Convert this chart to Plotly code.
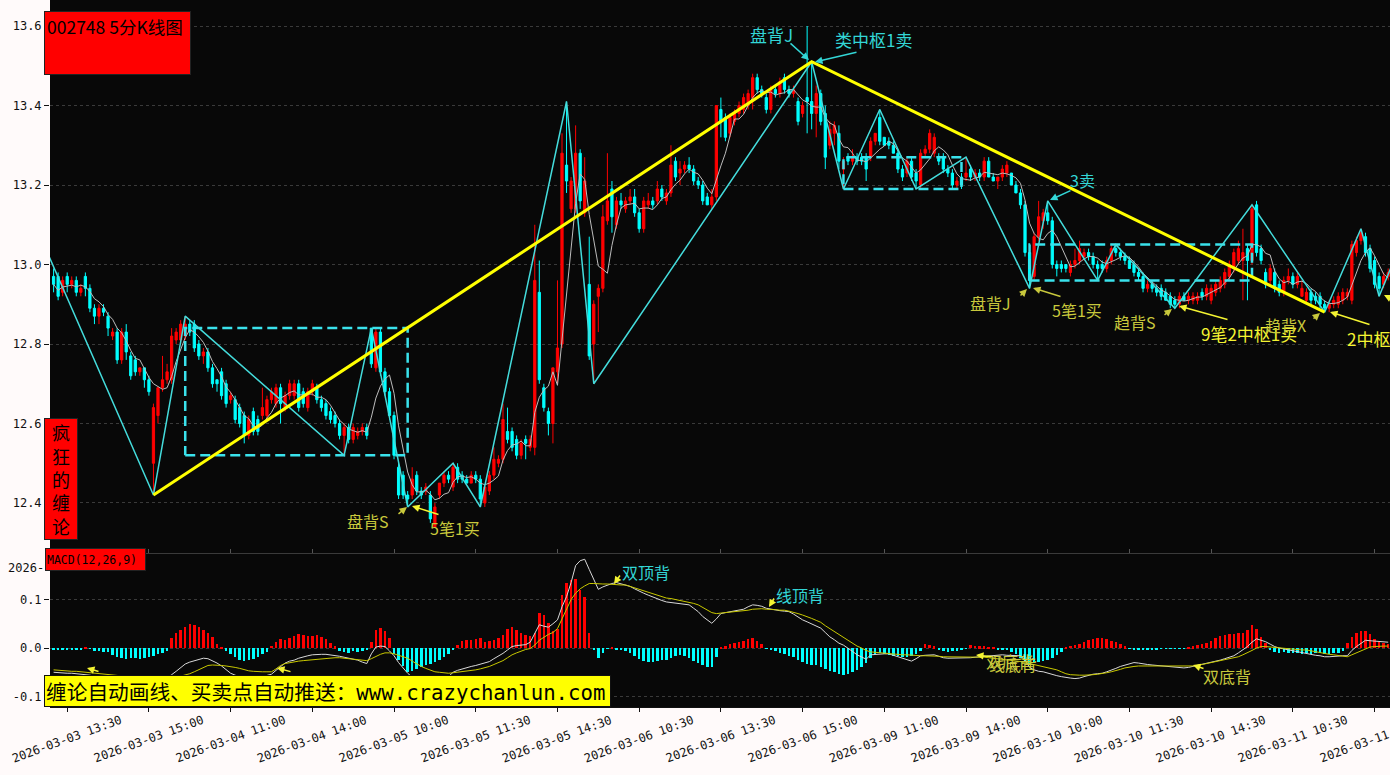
import plotly.graph_objects as go
import pandas as pd

# ---------------- data ----------------
tick_idx = [3, 21, 39, 57, 75, 93, 111, 129, 147, 165, 183, 201, 219, 237, 255, 273, 291]
tick_text = ["2026-03-03 13:30", "2026-03-03 15:00", "2026-03-04 11:00", "2026-03-04 14:00",
             "2026-03-05 10:00", "2026-03-05 11:30", "2026-03-05 14:30", "2026-03-06 10:30",
             "2026-03-06 13:30", "2026-03-06 15:00", "2026-03-09 11:00", "2026-03-09 14:00",
             "2026-03-10 10:00", "2026-03-10 11:30", "2026-03-10 14:30", "2026-03-11 10:30",
             "2026-03-11 13:30"]

opens = [
    12.97, 12.97, 12.93, 12.97, 12.95, 12.96, 12.93, 12.97, 12.94, 12.89,
    12.87, 12.89, 12.87, 12.82, 12.83, 12.76, 12.83, 12.77, 12.76, 12.73,
    12.74, 12.71, 12.50, 12.62, 12.69, 12.71, 12.71, 12.81, 12.81, 12.82,
    12.85, 12.85, 12.80, 12.77, 12.78, 12.74, 12.71, 12.73, 12.70, 12.66,
    12.66, 12.64, 12.62, 12.57, 12.63, 12.61, 12.62, 12.62, 12.66, 12.65,
    12.69, 12.64, 12.67, 12.67, 12.70, 12.68, 12.64, 12.68, 12.69, 12.66,
    12.65, 12.63, 12.62, 12.60, 12.57, 12.59, 12.56, 12.57, 12.58, 12.59,
    12.84, 12.74, 12.83, 12.73, 12.68, 12.62, 12.49, 12.47, 12.42, 12.42,
    12.47, 12.43, 12.43, 12.42, 12.34, 12.42, 12.45, 12.47, 12.44, 12.49,
    12.47, 12.46, 12.45, 12.47, 12.46, 12.40, 12.43, 12.47, 12.50, 12.51,
    12.58, 12.58, 12.56, 12.52, 12.56, 12.54, 12.54, 12.93, 12.69, 12.63,
    12.60, 12.73, 12.80, 13.25, 13.14, 13.14, 13.28, 13.13, 12.95, 12.80,
    12.92, 12.94, 13.11, 13.19, 13.10, 13.16, 13.14, 13.16, 13.17, 13.13,
    13.09, 13.15, 13.16, 13.16, 13.19, 13.16, 13.18, 13.26, 13.23, 13.24,
    13.25, 13.24, 13.21, 13.20, 13.17, 13.15, 13.17, 13.39, 13.37, 13.33,
    13.36, 13.38, 13.39, 13.40, 13.42, 13.47, 13.44, 13.42, 13.39, 13.44,
    13.43, 13.47, 13.44, 13.43, 13.41, 13.38, 13.42, 13.41, 13.38, 13.43,
    13.38, 13.30, 13.33, 13.33, 13.24, 13.27, 13.26, 13.27, 13.27, 13.27,
    13.27, 13.31, 13.37, 13.32, 13.31, 13.30, 13.28, 13.24, 13.23, 13.26,
    13.23, 13.20, 13.28, 13.29, 13.28, 13.27, 13.27, 13.24, 13.23, 13.20,
    13.22, 13.22, 13.24, 13.22, 13.23, 13.22, 13.26, 13.22, 13.21, 13.22,
    13.23, 13.23, 13.20, 13.18, 13.15, 13.03, 12.97, 13.07, 13.11, 13.13,
    13.11, 13.00, 13.00, 13.00, 12.98, 13.00, 13.01, 13.02, 13.03, 13.02,
    13.00, 13.00, 12.99, 13.01, 13.04, 13.03, 13.02, 13.01, 13.00, 12.98,
    12.97, 12.94, 12.95, 12.94, 12.94, 12.93, 12.92, 12.91, 12.90, 12.92,
    12.91, 12.91, 12.91, 12.93, 12.92, 12.91, 12.93, 12.94, 12.95, 12.97,
    12.99, 13.01, 13.01, 13.04, 13.01, 13.15, 13.04, 12.98, 12.96, 12.98,
    12.95, 12.93, 12.96, 12.97, 12.95, 12.92, 12.91, 12.93, 12.92, 12.92,
    12.90, 12.89, 12.90, 12.90, 12.91, 12.92, 12.91, 13.03, 13.06, 13.07,
    13.04, 13.01, 12.97, 12.95, 12.97]

highs = [
    12.99, 12.98, 12.97, 12.98, 12.97, 12.97, 12.95, 12.98, 12.95, 12.90,
    12.90, 12.90, 12.88, 12.84, 12.84, 12.84, 12.85, 12.78, 12.77, 12.74,
    12.74, 12.72, 12.65, 12.69, 12.77, 12.75, 12.84, 12.84, 12.86, 12.87,
    12.86, 12.86, 12.81, 12.79, 12.79, 12.75, 12.71, 12.74, 12.71, 12.68,
    12.67, 12.65, 12.63, 12.62, 12.64, 12.62, 12.69, 12.67, 12.69, 12.70,
    12.70, 12.68, 12.71, 12.71, 12.71, 12.69, 12.69, 12.71, 12.70, 12.67,
    12.66, 12.64, 12.63, 12.61, 12.60, 12.60, 12.60, 12.59, 12.60, 12.60,
    12.84, 12.84, 12.84, 12.74, 12.69, 12.63, 12.50, 12.48, 12.43, 12.49,
    12.48, 12.44, 12.45, 12.43, 12.40, 12.45, 12.48, 12.48, 12.50, 12.50,
    12.48, 12.47, 12.48, 12.48, 12.47, 12.44, 12.48, 12.54, 12.52, 12.65,
    12.64, 12.59, 12.57, 12.56, 12.57, 12.57, 13.10, 13.01, 12.70, 12.64,
    12.74, 12.96, 13.33, 13.41, 13.22, 13.35, 13.29, 13.27, 13.07, 12.91,
    12.95, 13.15, 13.28, 13.21, 13.17, 13.18, 13.17, 13.19, 13.19, 13.14,
    13.17, 13.18, 13.17, 13.21, 13.20, 13.19, 13.30, 13.27, 13.26, 13.26,
    13.27, 13.25, 13.22, 13.21, 13.18, 13.19, 13.40, 13.42, 13.38, 13.38,
    13.39, 13.41, 13.43, 13.44, 13.48, 13.48, 13.45, 13.43, 13.45, 13.45,
    13.47, 13.48, 13.45, 13.45, 13.42, 13.41, 13.60, 13.51, 13.45, 13.44,
    13.40, 13.36, 13.36, 13.35, 13.27, 13.28, 13.29, 13.28, 13.28, 13.28,
    13.32, 13.33, 13.39, 13.32, 13.32, 13.31, 13.29, 13.25, 13.27, 13.27,
    13.24, 13.29, 13.30, 13.34, 13.33, 13.28, 13.28, 13.25, 13.24, 13.22,
    13.23, 13.27, 13.25, 13.24, 13.24, 13.27, 13.27, 13.23, 13.22, 13.25,
    13.26, 13.23, 13.21, 13.19, 13.16, 13.05, 13.08, 13.16, 13.14, 13.16,
    13.12, 13.01, 13.01, 13.00, 13.01, 13.04, 13.06, 13.04, 13.04, 13.03,
    13.01, 13.01, 13.02, 13.05, 13.05, 13.04, 13.03, 13.02, 13.01, 12.99,
    12.98, 12.96, 12.96, 12.95, 12.95, 12.94, 12.93, 12.92, 12.93, 12.93,
    12.93, 12.93, 12.93, 12.94, 12.95, 12.95, 12.96, 12.97, 12.99, 13.01,
    13.04, 13.06, 13.09, 13.05, 13.15, 13.16, 13.05, 12.99, 13.00, 12.99,
    12.96, 12.97, 12.99, 12.98, 12.98, 12.96, 12.94, 12.94, 12.93, 12.93,
    12.91, 12.91, 12.92, 12.93, 12.94, 12.94, 13.06, 13.07, 13.09, 13.08,
    13.05, 13.02, 12.98, 12.98, 12.99]

lows = [
    12.93, 12.91, 12.92, 12.93, 12.94, 12.92, 12.92, 12.92, 12.88, 12.85,
    12.85, 12.87, 12.82, 12.81, 12.75, 12.75, 12.76, 12.71, 12.72, 12.72,
    12.69, 12.67, 12.42, 12.60, 12.68, 12.70, 12.70, 12.80, 12.80, 12.81,
    12.82, 12.78, 12.76, 12.75, 12.73, 12.69, 12.68, 12.66, 12.64, 12.65,
    12.60, 12.59, 12.55, 12.56, 12.57, 12.57, 12.61, 12.61, 12.65, 12.64,
    12.60, 12.63, 12.66, 12.66, 12.63, 12.64, 12.63, 12.67, 12.65, 12.63,
    12.61, 12.60, 12.59, 12.56, 12.52, 12.55, 12.55, 12.56, 12.57, 12.56,
    12.74, 12.73, 12.72, 12.67, 12.61, 12.51, 12.41, 12.41, 12.39, 12.41,
    12.42, 12.41, 12.42, 12.35, 12.34, 12.41, 12.44, 12.45, 12.43, 12.45,
    12.45, 12.45, 12.45, 12.45, 12.39, 12.39, 12.42, 12.46, 12.49, 12.50,
    12.55, 12.53, 12.51, 12.51, 12.51, 12.53, 12.52, 12.70, 12.63, 12.57,
    12.55, 12.70, 12.79, 13.18, 13.13, 13.13, 13.14, 13.12, 12.76, 12.70,
    12.83, 12.93, 13.10, 13.08, 13.09, 13.14, 13.13, 13.15, 13.12, 13.08,
    13.08, 13.14, 13.14, 13.15, 13.16, 13.15, 13.17, 13.21, 13.20, 13.23,
    13.23, 13.20, 13.19, 13.15, 13.15, 13.14, 13.16, 13.32, 13.31, 13.32,
    13.35, 13.37, 13.38, 13.39, 13.39, 13.43, 13.42, 13.38, 13.38, 13.42,
    13.42, 13.43, 13.42, 13.42, 13.35, 13.37, 13.33, 13.34, 13.32, 13.35,
    13.24, 13.29, 13.30, 13.24, 13.19, 13.25, 13.25, 13.25, 13.25, 13.21,
    13.26, 13.30, 13.30, 13.30, 13.29, 13.28, 13.23, 13.21, 13.22, 13.21,
    13.19, 13.19, 13.27, 13.28, 13.27, 13.25, 13.23, 13.22, 13.19, 13.19,
    13.19, 13.21, 13.21, 13.21, 13.21, 13.21, 13.22, 13.21, 13.19, 13.21,
    13.22, 13.20, 13.18, 13.14, 13.02, 12.94, 12.96, 13.06, 13.09, 13.10,
    12.99, 12.97, 12.98, 12.98, 12.97, 12.99, 13.00, 13.01, 13.01, 12.99,
    12.96, 12.98, 12.98, 13.00, 13.02, 13.01, 13.00, 12.99, 12.97, 12.96,
    12.93, 12.93, 12.93, 12.92, 12.91, 12.91, 12.89, 12.89, 12.89, 12.91,
    12.90, 12.90, 12.90, 12.91, 12.91, 12.90, 12.92, 12.93, 12.94, 12.96,
    12.98, 13.00, 12.91, 12.91, 13.00, 13.02, 13.00, 12.94, 12.95, 12.93,
    12.92, 12.92, 12.95, 12.94, 12.94, 12.92, 12.90, 12.90, 12.90, 12.89,
    12.88, 12.88, 12.89, 12.89, 12.90, 12.91, 12.90, 13.02, 13.05, 13.02,
    12.98, 12.94, 12.92, 12.94, 12.96]

closes = [
    12.95, 12.92, 12.96, 12.95, 12.96, 12.93, 12.94, 12.94, 12.89, 12.87,
    12.89, 12.88, 12.84, 12.83, 12.76, 12.83, 12.78, 12.72, 12.73, 12.74,
    12.71, 12.68, 12.64, 12.69, 12.71, 12.73, 12.82, 12.83, 12.85, 12.85,
    12.83, 12.79, 12.77, 12.78, 12.74, 12.70, 12.70, 12.67, 12.65, 12.67,
    12.61, 12.60, 12.57, 12.61, 12.58, 12.58, 12.64, 12.66, 12.68, 12.69,
    12.65, 12.67, 12.70, 12.70, 12.64, 12.65, 12.68, 12.70, 12.66, 12.64,
    12.62, 12.61, 12.60, 12.57, 12.59, 12.56, 12.59, 12.58, 12.59, 12.57,
    12.75, 12.83, 12.73, 12.68, 12.62, 12.52, 12.42, 12.42, 12.41, 12.46,
    12.43, 12.42, 12.44, 12.36, 12.39, 12.45, 12.47, 12.46, 12.49, 12.46,
    12.46, 12.45, 12.47, 12.46, 12.41, 12.44, 12.47, 12.51, 12.51, 12.61,
    12.56, 12.54, 12.52, 12.55, 12.55, 12.56, 12.96, 12.71, 12.64, 12.60,
    12.74, 12.79, 13.28, 13.21, 13.21, 13.28, 13.16, 13.21, 12.77, 12.90,
    12.94, 13.12, 13.16, 13.12, 13.16, 13.15, 13.16, 13.17, 13.13, 13.09,
    13.16, 13.16, 13.15, 13.19, 13.17, 13.18, 13.25, 13.22, 13.24, 13.25,
    13.24, 13.21, 13.20, 13.16, 13.15, 13.17, 13.40, 13.36, 13.32, 13.37,
    13.38, 13.40, 13.42, 13.43, 13.47, 13.44, 13.43, 13.39, 13.44, 13.43,
    13.46, 13.44, 13.43, 13.44, 13.36, 13.40, 13.41, 13.38, 13.43, 13.36,
    13.27, 13.34, 13.35, 13.26, 13.26, 13.26, 13.27, 13.26, 13.26, 13.24,
    13.31, 13.33, 13.31, 13.30, 13.30, 13.28, 13.24, 13.22, 13.26, 13.22,
    13.21, 13.28, 13.29, 13.33, 13.32, 13.26, 13.24, 13.23, 13.20, 13.21,
    13.20, 13.23, 13.22, 13.23, 13.22, 13.26, 13.22, 13.21, 13.22, 13.24,
    13.25, 13.20, 13.18, 13.15, 13.03, 12.96, 13.07, 13.12, 13.13, 13.11,
    13.00, 12.99, 12.99, 12.99, 13.00, 13.01, 13.04, 13.03, 13.02, 13.00,
    12.99, 12.99, 13.01, 13.04, 13.03, 13.02, 13.01, 12.99, 12.98, 12.97,
    12.94, 12.95, 12.94, 12.93, 12.92, 12.91, 12.90, 12.90, 12.92, 12.91,
    12.92, 12.92, 12.92, 12.92, 12.94, 12.94, 12.95, 12.96, 12.98, 13.00,
    13.03, 13.04, 13.03, 13.01, 13.14, 13.03, 13.01, 12.95, 12.99, 12.94,
    12.93, 12.96, 12.97, 12.95, 12.97, 12.94, 12.93, 12.91, 12.91, 12.90,
    12.89, 12.90, 12.91, 12.92, 12.93, 12.93, 13.05, 13.06, 13.08, 13.03,
    12.99, 12.95, 12.94, 12.97, 12.98]

# 笔 (pen) vertices: bar index and price
pen_idx = [-1, 22, 29, 64, 70, 78, 88, 94, 113, 119, 167, 174, 182, 190, 201,
           215, 219, 230, 234, 247, 264, 280, 288, 292, 296]
pen_val = [13.02, 12.42, 12.87, 12.52, 12.84, 12.39, 12.50, 12.39, 13.41, 12.70, 13.51,
           13.19, 13.39, 13.19, 13.27, 12.94, 13.16, 12.96, 13.05, 12.89, 13.15,
           12.88, 13.09, 12.92, 13.03]

# 线段 (segment) vertices
seg_idx = [22, 167, 280]
seg_val = [12.42, 13.51, 12.88]

# 中枢 (pivot zones)
zs_start = [29, 174, 215]
zs_end = [78, 200, 264]
zs_low = [12.52, 13.19, 12.96]
zs_high = [12.84, 13.27, 13.05]

# MACD(12,26,9)
dif = [
    -0.050, -0.051, -0.051, -0.052, -0.052, -0.053, -0.053, -0.054, -0.056, -0.058,
    -0.059, -0.060, -0.062, -0.064, -0.067, -0.069, -0.071, -0.074, -0.076, -0.078,
    -0.079, -0.081, -0.080, -0.074, -0.068, -0.062, -0.055, -0.048, -0.040, -0.033,
    -0.029, -0.026, -0.023, -0.021, -0.022, -0.026, -0.031, -0.037, -0.044, -0.052,
    -0.056, -0.059, -0.061, -0.062, -0.062, -0.061, -0.059, -0.057, -0.054, -0.046,
    -0.038, -0.031, -0.027, -0.025, -0.021, -0.018, -0.016, -0.014, -0.013, -0.013,
    -0.013, -0.014, -0.015, -0.017, -0.019, -0.021, -0.022, -0.025, -0.029, -0.032,
    -0.012, 0.002, 0.004, 0.003, -0.006, -0.016, -0.030, -0.042, -0.052, -0.060,
    -0.065, -0.068, -0.072, -0.075, -0.074, -0.072, -0.068, -0.060, -0.050, -0.046,
    -0.043, -0.040, -0.038, -0.036, -0.033, -0.031, -0.028, -0.022, -0.017, -0.011,
    -0.004, 0.003, 0.005, 0.006, 0.007, 0.012, 0.030, 0.048, 0.045, 0.043,
    0.050, 0.058, 0.085, 0.106, 0.135, 0.170, 0.180, 0.183, 0.162, 0.140,
    0.121, 0.126, 0.130, 0.133, 0.135, 0.132, 0.130, 0.127, 0.122, 0.117,
    0.113, 0.109, 0.105, 0.101, 0.098, 0.095, 0.094, 0.093, 0.092, 0.090,
    0.089, 0.082, 0.075, 0.065, 0.058, 0.051, 0.060, 0.071, 0.073, 0.075,
    0.077, 0.078, 0.080, 0.085, 0.089, 0.088, 0.086, 0.082, 0.080, 0.078,
    0.077, 0.076, 0.075, 0.070, 0.064, 0.058, 0.054, 0.050, 0.045, 0.041,
    0.032, 0.023, 0.017, 0.010, 0.006, 0.000, -0.007, -0.014, -0.019, -0.023,
    -0.014, -0.013, -0.012, -0.012, -0.012, -0.015, -0.018, -0.021, -0.024, -0.027,
    -0.022, -0.016, -0.015, -0.014, -0.014, -0.017, -0.020, -0.021, -0.021, -0.021,
    -0.021, -0.021, -0.020, -0.019, -0.018, -0.018, -0.017, -0.016, -0.015, -0.014,
    -0.015, -0.015, -0.016, -0.016, -0.025, -0.040, -0.045, -0.048, -0.049, -0.052,
    -0.055, -0.057, -0.059, -0.061, -0.062, -0.063, -0.062, -0.059, -0.056, -0.054,
    -0.053, -0.052, -0.049, -0.046, -0.042, -0.038, -0.035, -0.033, -0.030, -0.031,
    -0.033, -0.034, -0.035, -0.036, -0.037, -0.038, -0.038, -0.039, -0.040, -0.041,
    -0.040, -0.038, -0.035, -0.033, -0.031, -0.030, -0.028, -0.025, -0.022, -0.019,
    -0.016, -0.010, -0.004, 0.003, 0.012, 0.019, 0.016, 0.013, 0.008, 0.003,
    0.000, -0.002, -0.004, -0.006, -0.008, -0.010, -0.011, -0.013, -0.015, -0.016,
    -0.018, -0.018, -0.017, -0.017, -0.016, -0.016, -0.005, 0.003, 0.010, 0.016,
    0.015, 0.014, 0.013, 0.012, 0.012]

dea = [
    -0.045, -0.046, -0.047, -0.047, -0.048, -0.048, -0.049, -0.050, -0.051, -0.052,
    -0.053, -0.054, -0.055, -0.056, -0.057, -0.058, -0.059, -0.060, -0.061, -0.062,
    -0.063, -0.064, -0.065, -0.065, -0.064, -0.063, -0.062, -0.060, -0.058, -0.056,
    -0.053, -0.049, -0.045, -0.040, -0.036, -0.035, -0.035, -0.036, -0.037, -0.038,
    -0.040, -0.042, -0.045, -0.047, -0.048, -0.049, -0.049, -0.049, -0.049, -0.043,
    -0.036, -0.032, -0.030, -0.028, -0.027, -0.026, -0.025, -0.024, -0.023, -0.022,
    -0.021, -0.020, -0.020, -0.020, -0.021, -0.021, -0.022, -0.023, -0.025, -0.026,
    -0.022, -0.017, -0.013, -0.010, -0.010, -0.012, -0.015, -0.018, -0.021, -0.027,
    -0.033, -0.038, -0.042, -0.046, -0.049, -0.050, -0.051, -0.052, -0.051, -0.050,
    -0.048, -0.047, -0.046, -0.045, -0.043, -0.041, -0.038, -0.034, -0.030, -0.026,
    -0.020, -0.014, -0.010, -0.006, -0.003, -0.001, 0.006, 0.016, 0.022, 0.028,
    0.032, 0.040, 0.060, 0.080, 0.100, 0.113, 0.122, 0.128, 0.133, 0.133,
    0.132, 0.132, 0.132, 0.131, 0.131, 0.130, 0.130, 0.127, 0.124, 0.120,
    0.118, 0.115, 0.112, 0.108, 0.105, 0.103, 0.102, 0.100, 0.099, 0.097,
    0.095, 0.092, 0.089, 0.084, 0.078, 0.073, 0.071, 0.072, 0.073, 0.073,
    0.074, 0.075, 0.077, 0.078, 0.080, 0.081, 0.081, 0.080, 0.080, 0.079,
    0.078, 0.078, 0.076, 0.074, 0.071, 0.068, 0.065, 0.061, 0.057, 0.053,
    0.046, 0.040, 0.034, 0.027, 0.021, 0.015, 0.009, 0.004, 0.000, -0.005,
    -0.008, -0.009, -0.010, -0.011, -0.011, -0.012, -0.013, -0.014, -0.014, -0.015,
    -0.015, -0.016, -0.016, -0.016, -0.017, -0.017, -0.018, -0.018, -0.018, -0.019,
    -0.019, -0.019, -0.019, -0.019, -0.019, -0.019, -0.020, -0.021, -0.022, -0.023,
    -0.024, -0.025, -0.026, -0.027, -0.029, -0.032, -0.034, -0.036, -0.038, -0.040,
    -0.042, -0.045, -0.049, -0.053, -0.055, -0.056, -0.056, -0.056, -0.056, -0.055,
    -0.054, -0.053, -0.051, -0.049, -0.047, -0.044, -0.041, -0.039, -0.038, -0.037,
    -0.037, -0.037, -0.037, -0.037, -0.038, -0.038, -0.038, -0.038, -0.038, -0.038,
    -0.037, -0.037, -0.036, -0.034, -0.032, -0.030, -0.029, -0.027, -0.025, -0.022,
    -0.020, -0.018, -0.014, -0.010, -0.005, 0.000, 0.003, 0.003, 0.002, 0.001,
    0.001, 0.000, -0.001, -0.002, -0.003, -0.004, -0.004, -0.006, -0.008, -0.010,
    -0.012, -0.013, -0.014, -0.015, -0.017, -0.018, -0.014, -0.010, -0.007, -0.002,
    0.002, 0.003, 0.004, 0.004, 0.004]

macd_hist = [
    -0.004, -0.004, -0.004, -0.003, -0.004, -0.004, -0.003, 0.002, -0.002, -0.006,
    -0.007, -0.008, -0.009, -0.014, -0.018, -0.020, -0.022, -0.021, -0.020, -0.022,
    -0.020, -0.018, -0.016, -0.013, -0.010, -0.006, 0.020, 0.030, 0.038, 0.044,
    0.049, 0.047, 0.043, 0.037, 0.032, 0.022, 0.008, 0.002, -0.006, -0.012,
    -0.018, -0.024, -0.026, -0.025, -0.022, -0.018, -0.013, -0.008, 0.005, 0.013,
    0.018, 0.016, 0.020, 0.025, 0.029, 0.026, 0.024, 0.024, 0.027, 0.023,
    0.018, 0.010, 0.004, -0.006, -0.008, -0.010, -0.007, -0.009, -0.006, -0.004,
    0.012, 0.038, 0.042, 0.036, 0.020, -0.012, -0.025, -0.038, -0.050, -0.047,
    -0.044, -0.040, -0.036, -0.033, -0.028, -0.024, -0.018, -0.012, -0.005, 0.006,
    0.014, 0.016, 0.017, 0.018, 0.020, 0.012, 0.014, 0.016, 0.020, 0.027,
    0.040, 0.043, 0.038, 0.031, 0.027, 0.025, 0.030, 0.072, 0.068, 0.052,
    0.036, 0.040, 0.110, 0.135, 0.140, 0.142, 0.120, 0.106, 0.032, -0.003,
    -0.020, -0.010, -0.002, 0.002, -0.003, -0.004, -0.006, -0.010, -0.016, -0.022,
    -0.026, -0.028, -0.028, -0.026, -0.024, -0.025, -0.020, -0.017, -0.015, -0.016,
    -0.020, -0.026, -0.030, -0.036, -0.040, -0.040, -0.018, 0.003, 0.004, 0.008,
    0.010, 0.013, 0.014, 0.018, 0.020, 0.015, 0.008, -0.002, -0.004, -0.007,
    -0.010, -0.013, -0.016, -0.019, -0.024, -0.029, -0.033, -0.034, -0.036, -0.040,
    -0.044, -0.048, -0.050, -0.054, -0.056, -0.054, -0.050, -0.046, -0.040, -0.030,
    -0.020, -0.012, -0.010, -0.012, -0.014, -0.016, -0.017, -0.018, -0.018, -0.016,
    -0.012, -0.006, 0.008, 0.006, 0.004, -0.004, -0.006, -0.008, -0.007, -0.006,
    -0.004, -0.002, 0.006, 0.005, 0.004, 0.004, 0.003, 0.002, -0.004, -0.003,
    -0.005, -0.008, -0.012, -0.020, -0.028, -0.032, -0.030, -0.028, -0.026, -0.024,
    -0.020, -0.014, -0.008, 0.003, 0.005, 0.006, 0.008, 0.012, 0.016, 0.019,
    0.020, 0.020, 0.018, 0.015, 0.012, 0.008, 0.004, -0.002, -0.003, -0.003,
    -0.004, -0.004, -0.003, -0.003, -0.002, -0.002, -0.001, -0.002, -0.002, -0.001,
    0.002, 0.004, 0.006, 0.008, 0.011, 0.015, 0.020, 0.024, 0.027, 0.029,
    0.029, 0.030, 0.032, 0.038, 0.047, 0.040, 0.022, 0.010, -0.004, -0.008,
    -0.010, -0.009, -0.010, -0.011, -0.010, -0.012, -0.011, -0.012, -0.010, -0.011,
    -0.012, -0.013, -0.011, -0.010, -0.006, 0.010, 0.022, 0.032, 0.036, 0.036,
    0.028, 0.018, 0.012, 0.010, 0.008]

price_ticks = [12.4, 12.6, 12.8, 13.0, 13.2, 13.4, 13.6]
macd_ticks = [-0.1, 0.0, 0.1]

# ---------------- layout helpers ----------------
W, H = 1390, 775
ML, MR, MT, MB = 50, 0, 0, 68
PW, PH = W - ML - MR, H - MT - MB
SPLIT = 154 / PH

def PX(x):
    return (x - ML) / PW

def PY(y):
    return (PH + MT - y) / PH

RED, CYAN = "#FF0000", "#00FFFF"
PEN_C = "#44DCDC"
CY_T = "#33D6D6"
OL_T = "#C8C83C"
YE_T = "#F4F432"
CJK = "Noto Sans CJK SC"
MONO = "DejaVu Sans Mono"

idx = list(range(len(closes)))
ma5 = pd.Series(closes).rolling(5, min_periods=1).mean()

fig = go.Figure()
fig.add_trace(go.Candlestick(
    x=idx, open=opens, high=highs, low=lows, close=closes,
    increasing=dict(line=dict(color=RED, width=1), fillcolor=RED),
    decreasing=dict(line=dict(color=CYAN, width=1), fillcolor=CYAN),
    whiskerwidth=0, hoverinfo="skip", showlegend=False, xaxis="x", yaxis="y"))
fig.add_trace(go.Scatter(x=idx, y=ma5, mode="lines", line=dict(color="#BDBDBD", width=1),
                         hoverinfo="skip", showlegend=False, xaxis="x", yaxis="y"))
for s, e, lo, hi in zip(zs_start, zs_end, zs_low, zs_high):
    fig.add_trace(go.Scatter(x=[s, e, e, s, s], y=[lo, lo, hi, hi, lo], mode="lines",
                             line=dict(color="#3AE2EC", width=2.5, dash="10px,5px"),
                             hoverinfo="skip", showlegend=False, xaxis="x", yaxis="y"))
fig.add_trace(go.Scatter(x=pen_idx, y=pen_val, mode="lines", line=dict(color=PEN_C, width=1.5),
                         hoverinfo="skip", showlegend=False, xaxis="x", yaxis="y"))
fig.add_trace(go.Scatter(x=seg_idx, y=seg_val, mode="lines", line=dict(color="#FFFF00", width=3),
                         hoverinfo="skip", showlegend=False, xaxis="x", yaxis="y"))

fig.add_trace(go.Bar(x=idx, y=macd_hist, width=0.55,
                     marker=dict(color=[RED if v > 0 else CYAN for v in macd_hist], line=dict(width=0)),
                     hoverinfo="skip", showlegend=False, xaxis="x2", yaxis="y2"))
fig.add_trace(go.Scatter(x=idx, y=dif, mode="lines", line=dict(color="#D8D8D8", width=1),
                         hoverinfo="skip", showlegend=False, xaxis="x2", yaxis="y2"))
fig.add_trace(go.Scatter(x=idx, y=dea, mode="lines", line=dict(color="#C8C800", width=1),
                         hoverinfo="skip", showlegend=False, xaxis="x2", yaxis="y2"))

xr = [-0.79, 294.4]
fig.update_layout(
    width=W, height=H, margin=dict(l=ML, r=MR, t=MT, b=MB),
    paper_bgcolor="#FFFAFA", plot_bgcolor="#080808", showlegend=False, bargap=0,
    xaxis=dict(domain=[0, 1], range=xr, anchor="y", showticklabels=False, tickvals=tick_idx,
               ticks="inside", ticklen=4, tickcolor="#555", showgrid=False, zeroline=False,
               showline=True, linecolor="#3a3a3a", rangeslider=dict(visible=False)),
    yaxis=dict(domain=[SPLIT, 1], range=[12.2742, 13.6654], tickvals=price_ticks,
               ticktext=["%.1f" % v for v in price_ticks], ticks="outside", ticklen=5,
               tickcolor="#111", showgrid=True, gridcolor="#3a3a3a", griddash="dot", gridwidth=1,
               zeroline=False, showline=False,
               tickfont=dict(family=MONO, size=12, color="#111")),
    xaxis2=dict(domain=[0, 1], range=xr, anchor="y2", showticklabels=False, tickvals=tick_idx,
                ticks="outside", ticklen=4, tickcolor="#111", showgrid=False, zeroline=False,
                showline=True, linecolor="#111"),
    yaxis2=dict(domain=[0, SPLIT], range=[-0.1216, 0.1959], tickvals=macd_ticks,
                ticktext=["-0.1", "0.0", "0.1"], ticks="outside", ticklen=5, tickcolor="#111",
                showgrid=True, gridcolor="#3a3a3a", griddash="dot", zeroline=False,
                tickfont=dict(family=MONO, size=12, color="#111")),
)

ann = []
# x tick labels (rotated, centred on ticks)
for t, s in zip(tick_idx, tick_text):
    ann.append(dict(x=t, y=PY(739), xref="x2", yref="paper", text=s, showarrow=False,
                    textangle=-20, xanchor="center", yanchor="middle",
                    font=dict(family=MONO, size=12, color="#111")))
ann.append(dict(x=PX(46), y=PY(568), xref="paper", yref="paper", text="2026-", showarrow=False,
                xanchor="right", yanchor="middle", font=dict(family=MONO, size=12, color="#111")))

def label(text, x, y, color, size=16, xanchor="center"):
    ann.append(dict(x=PX(x), y=PY(y), xref="paper", yref="paper", text=text, showarrow=False,
                    xanchor=xanchor, yanchor="middle", font=dict(family=CJK, size=size, color=color)))

def arrow(hx, hy, tx, ty, color):
    ann.append(dict(x=PX(hx), y=PY(hy), xref="paper", yref="paper", text="", showarrow=True,
                    ax=tx - hx, ay=ty - hy, arrowhead=2, arrowsize=1, arrowwidth=1.5,
                    arrowcolor=color, standoff=0, startstandoff=0))

label("盘背J", 772, 34, CY_T, 17)
arrow(809, 60, 789, 42, CY_T)
label("类中枢1卖", 873, 40, CY_T, 17)
arrow(815, 62, 858, 52, CY_T)
label("3卖", 1082, 180, CY_T, 16)
arrow(1050, 200, 1072, 190, CY_T)
label("盘背S", 368, 521, OL_T, 16)
arrow(407, 507, 397, 515, OL_T)
label("5笔1买", 455, 528, OL_T, 16)
arrow(412, 506, 440, 515, YE_T)
label("盘背J", 990, 303, OL_T, 16)
arrow(1027, 289, 1019, 297, OL_T)
label("5笔1买", 1077, 310, OL_T, 16)
arrow(1033, 288, 1062, 297, OL_T)
label("趋背S", 1135, 322, OL_T, 16)
arrow(1172, 309, 1163, 316, OL_T)
label("9笔2中枢1买", 1249, 333, YE_T, 17)
arrow(1179, 306, 1229, 320, YE_T)
label("趋背X", 1285, 325, OL_T, 16)
arrow(1320, 313, 1312, 320, OL_T)
label("2中枢1买", 1345, 338, YE_T, 17, xanchor="left")
arrow(1330, 312, 1371, 325, YE_T)
arrow(1384, 295, 1398, 298, YE_T)
# MACD panel labels
label("双顶背", 646, 572, CY_T, 16)
arrow(614, 584, 621, 574, YE_T)
label("线顶背", 800, 595, CY_T, 16)
arrow(769, 607, 775, 597, YE_T)
label("线底背", 1013, 664, OL_T, 16)
label("双底背", 1010, 661, OL_T, 16)
arrow(976, 655, 993, 657, YE_T)
label("双底背", 1227, 676, OL_T, 16)
arrow(1193, 665, 1205, 669, YE_T)
label("线底背", 122, 684, OL_T, 16)
arrow(87, 668, 100, 672, YE_T)
label("线底背", 312, 684, OL_T, 16)
arrow(277, 668, 292, 672, YE_T)

# boxed labels
ann.append(dict(x=PX(44), y=PY(11), xref="paper", yref="paper", xanchor="left", yanchor="top",
                text="002748 5分K线图", showarrow=False, align="left", valign="top",
                width=141, height=58, bgcolor="#FF0000", bordercolor="#222", borderwidth=1, borderpad=2,
                font=dict(family=CJK, size=17.5, color="#000")))
ann.append(dict(x=PX(44), y=PY(418), xref="paper", yref="paper", xanchor="left", yanchor="top",
                text="疯<br>狂<br>的<br>缠<br>论", showarrow=False, align="center", valign="middle",
                width=30, height=118, bgcolor="#FF0000", bordercolor="#222", borderwidth=1, borderpad=1,
                font=dict(family=CJK, size=18, color="#000")))
ann.append(dict(x=PX(45), y=PY(548), xref="paper", yref="paper", xanchor="left", yanchor="top",
                text="MACD(12,26,9)", showarrow=False, align="left", valign="middle",
                width=97, height=19, bgcolor="#FF0000", bordercolor="#222", borderwidth=1, borderpad=1,
                font=dict(family=MONO, size=11.5, color="#000")))
ann.append(dict(x=PX(44), y=PY(675), xref="paper", yref="paper", xanchor="left", yanchor="top",
                text="缠论自动画线、买卖点自动推送：<span style='font-family:DejaVu Sans Mono'>www.crazychanlun.com</span>",
                showarrow=False, align="left", valign="middle",
                width=563, height=28, bgcolor="#FFFF00", bordercolor="#111", borderwidth=1, borderpad=1,
                font=dict(family=CJK, size=20.7, color="#000")))

fig.update_layout(annotations=ann)
fig.write_html("out.html", config={"displayModeBar": False},
               post_script="document.body.style.margin='0px';")
